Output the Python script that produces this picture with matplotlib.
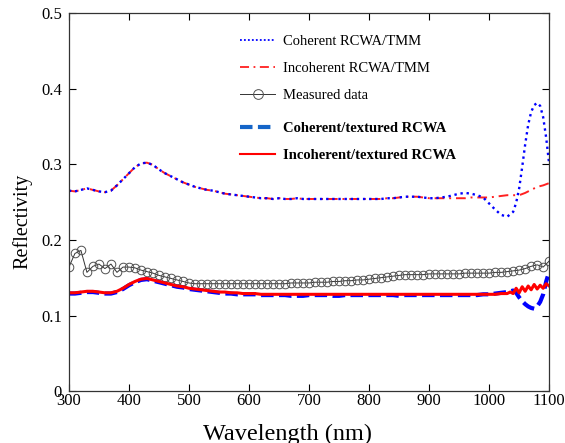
import numpy as np
import matplotlib.pyplot as plt
from matplotlib.lines import Line2D

plt.rc('font', family='Liberation Serif')

# planar stack, 300-1100 nm every 10 nm
wl = np.arange(300, 1101, 10)
r_incoh = [0.265, 0.264, 0.266, 0.268, 0.266, 0.264, 0.263, 0.265, 0.272, 0.280,
           0.288, 0.296, 0.301, 0.302, 0.299, 0.293, 0.288, 0.284, 0.280, 0.276,
           0.273, 0.270, 0.268, 0.266, 0.265, 0.263, 0.261, 0.260, 0.259, 0.258,
           0.257, 0.256, 0.255, 0.255, 0.254, 0.255, 0.254, 0.254, 0.255, 0.254,
           0.254, 0.254, 0.254, 0.254, 0.254, 0.254, 0.254, 0.254, 0.254, 0.254,
           0.254, 0.254, 0.254, 0.255, 0.255, 0.256, 0.257, 0.257, 0.257, 0.256,
           0.255, 0.255, 0.255, 0.255, 0.255, 0.255, 0.255, 0.256, 0.256, 0.256,
           0.256, 0.257, 0.258, 0.259, 0.259, 0.259, 0.262, 0.266, 0.270, 0.272, 0.275]

# coherent: same as incoherent up to 900 nm, then oscillates
wl_coh_tail = [910, 920, 930, 940, 950, 960, 970, 980, 990, 1000, 1010, 1020, 1030,
               1040, 1045, 1050, 1055, 1060, 1065, 1070, 1075, 1080, 1085, 1090, 1095, 1100]
r_coh_tail = [0.255, 0.256, 0.257, 0.259, 0.261, 0.262, 0.261, 0.259, 0.256, 0.248,
              0.240, 0.233, 0.2305, 0.237, 0.249, 0.268, 0.296, 0.326, 0.352, 0.369,
              0.378, 0.381, 0.377, 0.362, 0.335, 0.300]

# measured
r_meas = [0.164, 0.182, 0.186, 0.157, 0.165, 0.168, 0.162, 0.168, 0.157, 0.164,
          0.164, 0.163, 0.160, 0.158, 0.156, 0.153, 0.151, 0.149, 0.147, 0.145,
          0.143, 0.142, 0.142, 0.142, 0.142, 0.142, 0.142, 0.142, 0.142, 0.142,
          0.142, 0.142, 0.142, 0.142, 0.142, 0.142, 0.142, 0.143, 0.143, 0.143,
          0.143, 0.144, 0.144, 0.144, 0.145, 0.145, 0.146, 0.146, 0.147, 0.147,
          0.148, 0.149, 0.150, 0.151, 0.152, 0.153, 0.154, 0.154, 0.154, 0.154,
          0.155, 0.155, 0.155, 0.155, 0.155, 0.155, 0.156, 0.156, 0.156, 0.156,
          0.156, 0.157, 0.157, 0.158, 0.159, 0.160, 0.162, 0.165, 0.167, 0.164, 0.172]

# textured, 300-1030 nm every 10 nm
wl_tex = np.arange(300, 1031, 10)
r_tex_incoh = [0.130, 0.130, 0.131, 0.132, 0.132, 0.131, 0.130, 0.130, 0.132, 0.136,
               0.141, 0.145, 0.148, 0.149, 0.147, 0.145, 0.143, 0.141, 0.139, 0.138,
               0.136, 0.135, 0.134, 0.133, 0.132, 0.131, 0.131, 0.130, 0.130, 0.129,
               0.129, 0.129, 0.128, 0.128, 0.128, 0.128, 0.128, 0.128, 0.128, 0.128,
               0.128, 0.128, 0.128, 0.128, 0.128, 0.128, 0.128, 0.128, 0.128, 0.128,
               0.128, 0.128, 0.128, 0.128, 0.128, 0.128, 0.128, 0.128, 0.128, 0.128,
               0.128, 0.128, 0.128, 0.128, 0.128, 0.128, 0.128, 0.128, 0.128, 0.128,
               0.128, 0.128, 0.129, 0.129]
r_tex_coh = [0.129, 0.129, 0.130, 0.131, 0.131, 0.130, 0.129, 0.129, 0.131, 0.135,
             0.140, 0.144, 0.147, 0.148, 0.146, 0.144, 0.142, 0.140, 0.138, 0.137,
             0.135, 0.134, 0.133, 0.132, 0.131, 0.130, 0.129, 0.129, 0.128, 0.128,
             0.128, 0.128, 0.127, 0.127, 0.127, 0.127, 0.127, 0.126, 0.126, 0.126,
             0.127, 0.127, 0.127, 0.127, 0.126, 0.126, 0.127, 0.127, 0.127, 0.127,
             0.127, 0.127, 0.127, 0.127, 0.127, 0.126, 0.127, 0.127, 0.127, 0.127,
             0.127, 0.127, 0.127, 0.127, 0.127, 0.127, 0.127, 0.127, 0.127, 0.128,
             0.128, 0.129, 0.130, 0.131]
wl_tex_tail = [1035, 1040, 1045, 1050, 1055, 1060, 1065, 1070, 1075, 1080, 1085, 1090, 1095, 1100]
r_tex_incoh_tail = [0.131, 0.129, 0.136, 0.130, 0.138, 0.132, 0.139, 0.134, 0.141, 0.135,
                    0.140, 0.136, 0.142, 0.139]
r_tex_coh_tail = [0.132, 0.133, 0.130, 0.124, 0.119, 0.115, 0.112, 0.110, 0.109, 0.112,
                  0.118, 0.128, 0.145, 0.158]

wl_coh = np.concatenate([wl[:61], wl_coh_tail])
r_coh = np.concatenate([r_incoh[:61], r_coh_tail])
wl_t = np.concatenate([wl_tex, wl_tex_tail])

fig = plt.figure(figsize=(5.65, 4.43), dpi=100)
ax = fig.add_axes([0.122, 0.117, 0.850, 0.854])

ax.plot(wl, r_incoh, color='#ff2020', linestyle=(0, (5, 2.5, 1, 2.5)), lw=1.4)
ax.plot(wl_coh, r_coh, color='#0000ff', linestyle=(0, (1, 1.6)), lw=1.7)
ax.plot(wl, r_meas, color='#333333', lw=0.7, marker='o', ms=6.2, mfc='none',
        mec='#505050', mew=0.7)
ax.plot(wl_t, np.concatenate([r_tex_coh, r_tex_coh_tail]), color='#0000ff',
        linestyle=(0, (3, 1.3)), lw=3)
ax.plot(wl_t, np.concatenate([r_tex_incoh, r_tex_incoh_tail]), color='#ff0000', lw=2.2)

ax.set_xlim(300, 1100)
ax.set_ylim(0, 0.5)
ax.set_xticks(np.arange(300, 1101, 100))
ax.set_yticks([0, 0.1, 0.2, 0.3, 0.4, 0.5])
ax.set_yticklabels(['0', '0.1', '0.2', '0.3', '0.4', '0.5'])
ax.tick_params(direction='in', top=True, right=True, length=5, width=0.8,
               labelsize=12)
ax.tick_params(axis='x', pad=1.5)
ax.tick_params(axis='y', pad=5)
for s in ax.spines.values():
    s.set_color('#333333')
    s.set_linewidth(0.9)
ax.set_xlabel('Wavelength (nm)', fontsize=17.5)
ax.xaxis.set_label_coords(0.455, -0.085)
ax.set_ylabel('Reflectivity', fontsize=14.5)
ax.yaxis.set_label_coords(-0.077, 0.45)

h1 = [Line2D([], [], color='#0000ff', linestyle=(0, (1, 1.2)), lw=1.3),
      Line2D([], [], color='#ff2020', linestyle=(0, (5, 2.5, 1, 2.5)), lw=1.3),
      Line2D([], [], color='#333333', lw=0.7, marker='o', ms=7, mfc='none', mec='#505050', mew=0.7)]
leg1 = ax.legend(h1, ['Coherent RCWA/TMM', 'Incoherent RCWA/TMM', 'Measured data'],
                 loc='upper left', bbox_to_anchor=(0.357, 0.943), frameon=False,
                 fontsize=10.5, handlelength=2.4, handletextpad=0.5, labelspacing=0.95,
                 borderpad=0, borderaxespad=0)
ax.add_artist(leg1)
h2 = [Line2D([], [], color='#1565c8', linestyle=(0, (3, 1.3)), lw=3),
      Line2D([], [], color='#ff0000', lw=1.5)]
ax.legend(h2, ['Coherent/textured RCWA', 'Incoherent/textured RCWA'],
          loc='upper left', bbox_to_anchor=(0.357, 0.713), frameon=False,
          prop={'size': 10.5, 'weight': 'bold'}, handlelength=2.4, handletextpad=0.5,
          labelspacing=0.95, borderpad=0, borderaxespad=0)

plt.savefig('out.png', dpi=100)
